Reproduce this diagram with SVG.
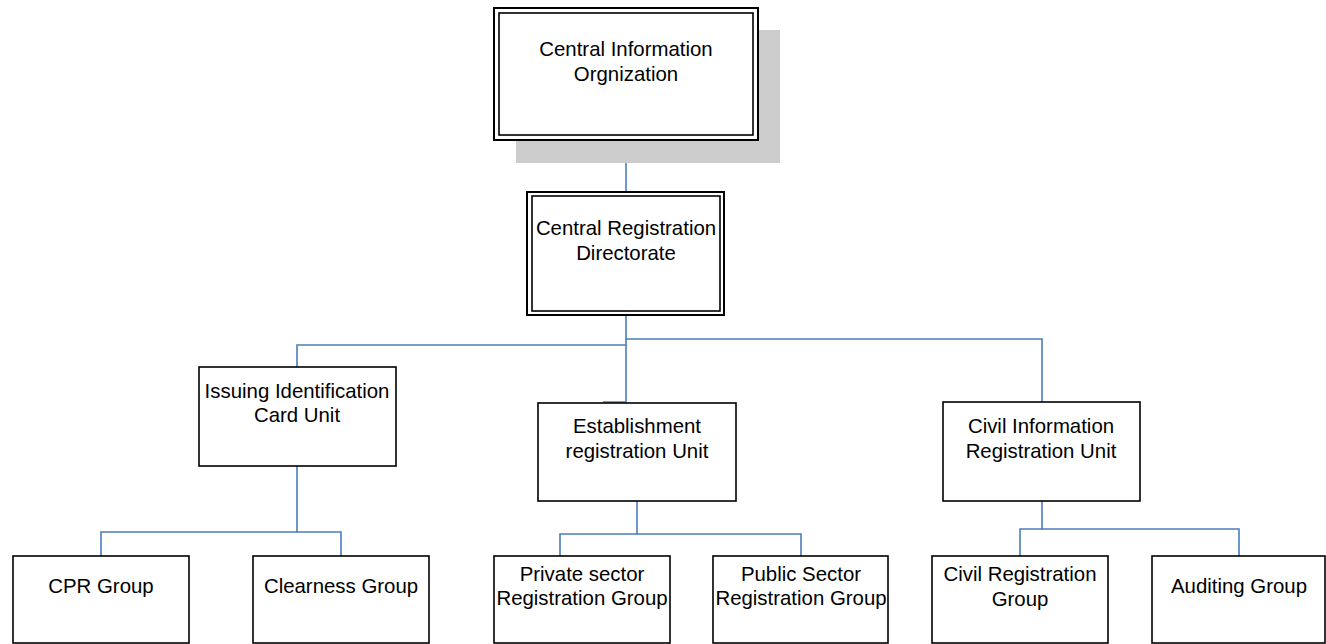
<svg xmlns="http://www.w3.org/2000/svg" width="1326" height="644" viewBox="0 0 1326 644">
<style>
.box{fill:#ffffff;stroke:#000000;stroke-width:1.6}
.outer{fill:#ffffff;stroke:#000000;stroke-width:2}
.inner{fill:none;stroke:#000000;stroke-width:1.6}
.conn{fill:none;stroke:#4a7ebb;stroke-width:1.6}
text{font-family:"Liberation Sans",Arial,sans-serif;font-size:20.4px;fill:#000000;text-anchor:middle}
</style>
<rect width="1326" height="644" fill="#ffffff"/>
<g id="connectors">
<path class="conn" d="M626 140 V192"/>
<path class="conn" d="M626 315 V339 H1042 V402"/>
<path class="conn" d="M626 339 V345 H297 V367"/>
<path class="conn" d="M626 345 V402 H603"/>
<path class="conn" d="M297 466 V532 H101 V556"/>
<path class="conn" d="M297 532 H341 V556"/>
<path class="conn" d="M637 501 V534 H560 V556"/>
<path class="conn" d="M637 534 H801 V556"/>
<path class="conn" d="M1042 501 V529 H1020 V556"/>
<path class="conn" d="M1042 529 H1239 V556"/>
</g>
<g id="central-information-organization">
<rect x="516" y="30" width="264" height="133" fill="#cccccc"/>
<rect class="outer" x="494" y="8" width="264" height="132"/>
<rect class="inner" x="499" y="13" width="254" height="122"/>
<text x="626" y="56">Central Information</text>
<text x="626" y="81">Orgnization</text>
</g>
<g id="central-registration-directorate">
<rect class="outer" x="527" y="192" width="197" height="123"/>
<rect class="inner" x="532" y="196" width="188" height="115"/>
<text x="626" y="235">Central Registration</text>
<text x="626" y="260">Directorate</text>
</g>
<g id="issuing-identification-card-unit">
<rect class="box" x="199" y="367" width="197" height="99"/>
<text x="297" y="398">Issuing Identification</text>
<text x="297" y="422">Card Unit</text>
</g>
<g id="establishment-registration-unit">
<rect class="box" x="538" y="403" width="198" height="98"/>
<text x="637" y="433">Establishment</text>
<text x="637" y="458">registration Unit</text>
</g>
<g id="civil-information-registration-unit">
<rect class="box" x="943" y="402" width="197" height="99"/>
<text x="1041" y="433">Civil Information</text>
<text x="1041" y="458">Registration Unit</text>
</g>
<g id="cpr-group">
<rect class="box" x="13" y="556" width="176" height="87"/>
<text x="101" y="593">CPR Group</text>
</g>
<g id="clearness-group">
<rect class="box" x="253" y="556" width="176" height="87"/>
<text x="341" y="593">Clearness Group</text>
</g>
<g id="private-sector-registration-group">
<rect class="box" x="494" y="556" width="176" height="87"/>
<text x="582" y="581">Private sector</text>
<text x="582" y="605">Registration Group</text>
</g>
<g id="public-sector-registration-group">
<rect class="box" x="713" y="556" width="175" height="87"/>
<text x="801" y="581">Public Sector</text>
<text x="801" y="605">Registration Group</text>
</g>
<g id="civil-registration-group">
<rect class="box" x="932" y="556" width="176" height="87"/>
<text x="1020" y="581">Civil Registration</text>
<text x="1020" y="606">Group</text>
</g>
<g id="auditing-group">
<rect class="box" x="1152" y="556" width="173" height="87"/>
<text x="1239" y="593">Auditing Group</text>
</g>
</svg>
